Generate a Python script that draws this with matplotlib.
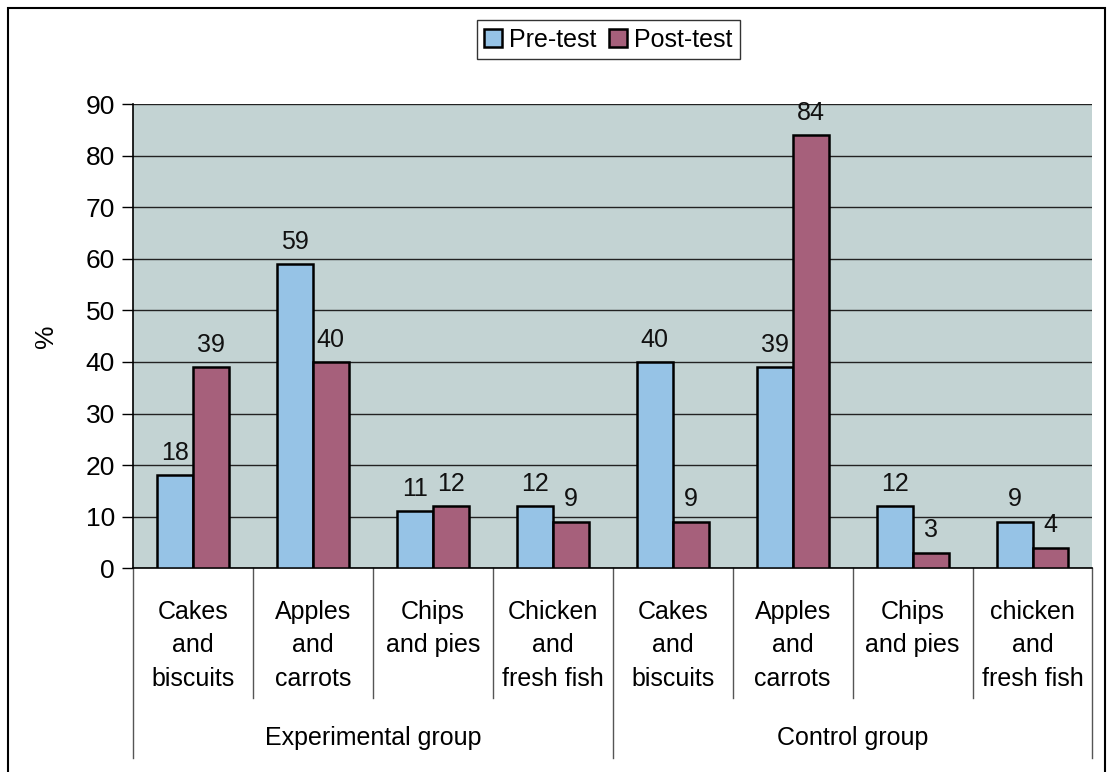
import numpy as np
import matplotlib.pyplot as plt
from matplotlib.patches import Rectangle
import matplotlib.transforms as mtransforms

plt.rcParams['font.family'] = ['Liberation Sans', 'DejaVu Sans']

categories = ["Cakes\nand\nbiscuits", "Apples\nand\ncarrots", "Chips\nand pies", "Chicken\nand\nfresh fish",
              "Cakes\nand\nbiscuits", "Apples\nand\ncarrots", "Chips\nand pies", "chicken\nand\nfresh fish"]
groups = ["Experimental group", "Control group"]
pre_test = [18, 59, 11, 12, 40, 39, 12, 9]
post_test = [39, 40, 12, 9, 9, 84, 3, 4]

pre_col = '#96c3e6'
post_col = '#a6607b'
bg_col = '#c3d3d3'

fig = plt.figure(figsize=(11.08, 7.72), dpi=100)
ax = fig.add_axes([0.120, 0.264, 0.866, 0.601])

x = np.arange(len(categories))
w = 0.3
b1 = ax.bar(x - w/2, pre_test, w, color=pre_col, edgecolor='black', linewidth=1.8, label='Pre-test', zorder=3)
b2 = ax.bar(x + w/2, post_test, w, color=post_col, edgecolor='black', linewidth=1.8, label='Post-test', zorder=3)

for bars, vals in ((b1, pre_test), (b2, post_test)):
    for r, v in zip(bars, vals):
        ax.text(r.get_x() + r.get_width()/2, v + 2, str(v), ha='center', va='bottom',
                fontsize=18, color='#111111', zorder=4)

ax.set_facecolor(bg_col)
ax.set_xlim(-0.5, len(categories) - 0.5)
ax.set_ylim(0, 90)
ax.set_yticks(range(0, 91, 10))
ax.yaxis.grid(True, color='#222222', linewidth=1.0, zorder=1)
ax.set_axisbelow(True)
ax.tick_params(axis='y', labelsize=19, length=8, width=1, direction='out', pad=5)
ax.set_xticks([])
for s in ('top', 'right'):
    ax.spines[s].set_visible(False)
ax.spines['left'].set_linewidth(1.2)
ax.spines['bottom'].set_linewidth(1.2)
ax.set_ylabel('%', fontsize=19, labelpad=20)

# category table below the axis
trans = mtransforms.blended_transform_factory(ax.transData, ax.transAxes)
for i, lab in enumerate(categories):
    ax.text(x[i], -0.068, lab, transform=trans, ha='center', va='top', fontsize=18, linespacing=1.5)
for b in np.arange(-0.5, len(categories), 1.0):
    bottom = -0.41 if b in (-0.5, 3.5, 7.5) else -0.28
    ax.plot([b, b], [0, bottom], transform=trans, color='#555555', linewidth=1.0, clip_on=False)
for g, lab in enumerate(groups):
    ax.text(1.5 + 4*g, -0.365, lab, transform=trans, ha='center', va='center', fontsize=18)

leg = fig.legend(loc='upper center', bbox_to_anchor=(0.549, 0.99), ncol=2, fontsize=18,
                 frameon=True, fancybox=False, edgecolor='black', handlelength=0.7, handleheight=0.7,
                 handletextpad=0.3, columnspacing=0.5, borderpad=0.3)
leg.get_frame().set_linewidth(1.0)

# outer border of the chart
fig.patches.append(Rectangle((0.007, -0.01), 0.99, 0.999, transform=fig.transFigure,
                             fill=False, edgecolor='black', linewidth=1.5))

fig.savefig('out.png', dpi=100)
